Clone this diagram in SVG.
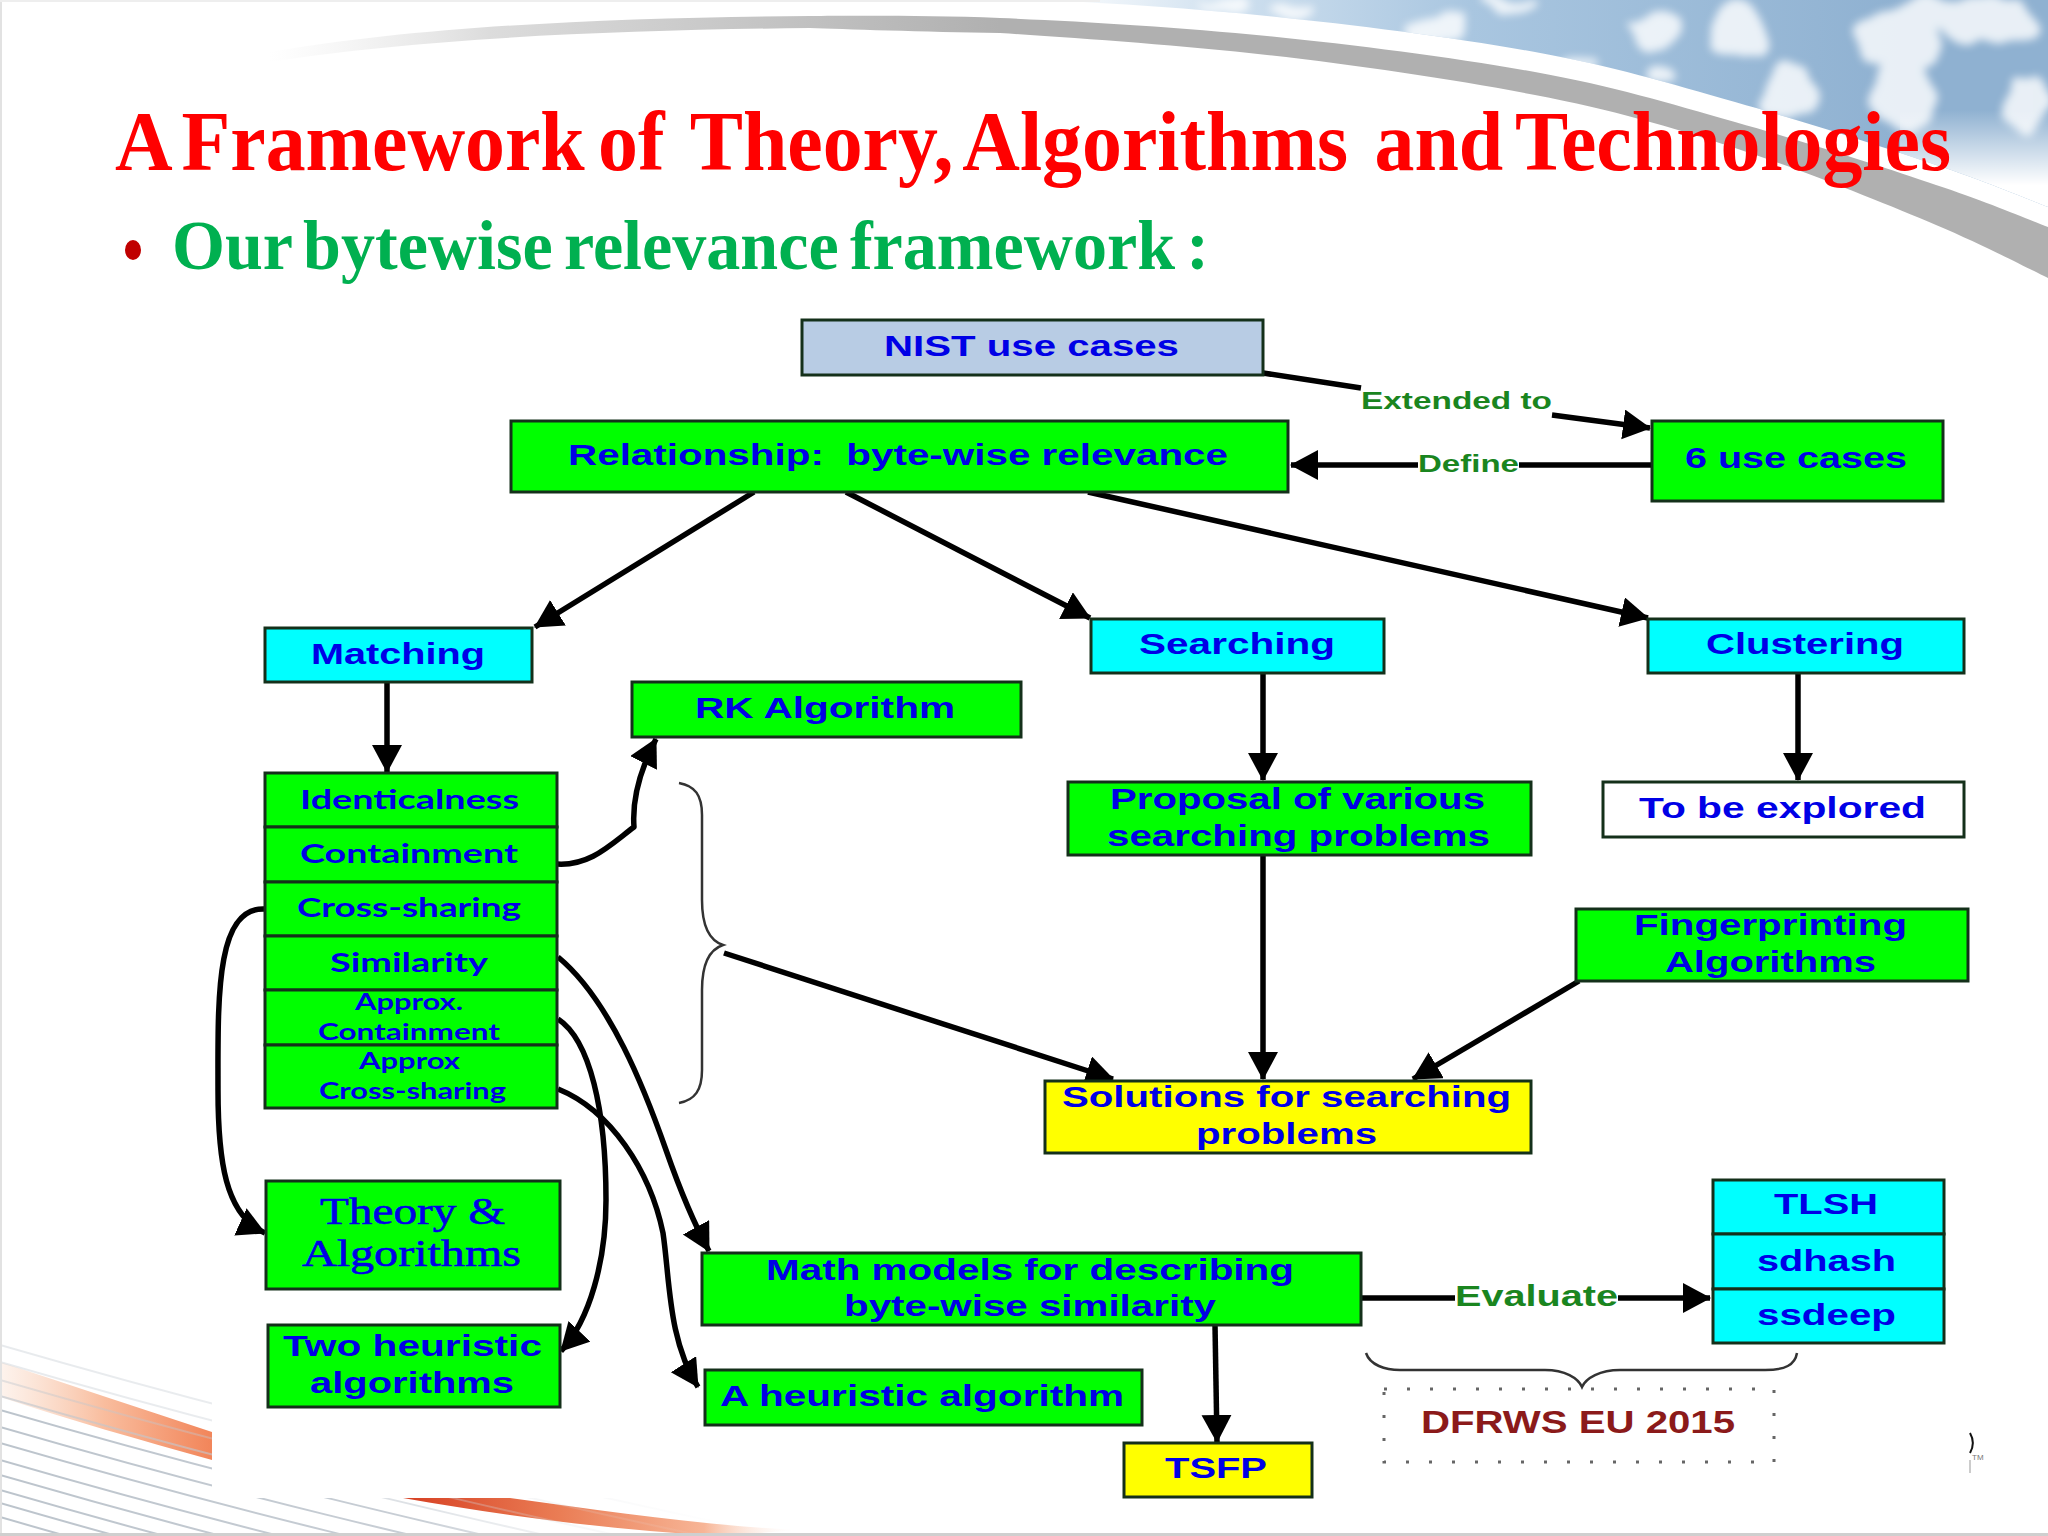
<svg xmlns="http://www.w3.org/2000/svg" width="2048" height="1536" viewBox="0 0 2048 1536">
<style>
.box{stroke:#14301a;stroke-width:3}
.g{fill:#00ff00}.c{fill:#00ffff}.y{fill:#ffff00}
text{font-family:"Liberation Sans",Arial,sans-serif}
.t{font-weight:700;font-size:29px;fill:#0000e6}
.l{font-family:Lato,"Liberation Sans",sans-serif;font-weight:700;fill:#0000e6}
.s{font-family:"Liberation Serif",serif;font-size:38px;fill:#0000e6;stroke:#0000e6;stroke-width:.6}
.lab{font-weight:700;fill:#1a851f}
.conn{fill:none;stroke:#000;stroke-width:5.5;stroke-linecap:butt;stroke-linejoin:round}
.end{marker-end:url(#arrow)}
.brace{fill:none;stroke:#333;stroke-width:2.5}
.gl{fill:none;stroke:url(#lineFade);stroke-width:2}
</style>
<defs>
<marker id="arrow" markerUnits="userSpaceOnUse" markerWidth="30" markerHeight="32" refX="27" refY="15" orient="auto">
<path d="M0,0 L28,15 L0,30 Z" fill="#000"/>
</marker>
<linearGradient id="sky" gradientUnits="userSpaceOnUse" x1="1040" y1="0" x2="1900" y2="0">
<stop offset="0" stop-color="#fff"/><stop offset=".22" stop-color="#cfe0ef"/><stop offset=".5" stop-color="#a9c6e0"/><stop offset="1" stop-color="#8fb1d1"/>
</linearGradient>
<linearGradient id="skyFade" gradientUnits="userSpaceOnUse" x1="2000" y1="110" x2="2000" y2="185">
<stop offset="0" stop-color="#fff" stop-opacity="0"/><stop offset="1" stop-color="#fff"/>
</linearGradient>
<linearGradient id="bandG" gradientUnits="userSpaceOnUse" x1="270" y1="0" x2="1000" y2="0">
<stop offset="0" stop-color="#e8e8e8" stop-opacity="0"/><stop offset=".3" stop-color="#dcdcdc"/><stop offset="1" stop-color="#b0b0b0"/>
</linearGradient>
<linearGradient id="orange" gradientUnits="userSpaceOnUse" x1="0" y1="0" x2="800" y2="0">
<stop offset="0" stop-color="#f8d0b8" stop-opacity=".25"/><stop offset=".13" stop-color="#f9bd9e"/><stop offset=".26" stop-color="#f2875c"/><stop offset=".5" stop-color="#d63f22"/><stop offset=".7" stop-color="#ea7d55"/><stop offset=".88" stop-color="#f7b596"/><stop offset="1" stop-color="#fff" stop-opacity="0"/>
</linearGradient>
<linearGradient id="lineFade" gradientUnits="userSpaceOnUse" x1="0" y1="0" x2="760" y2="0">
<stop offset="0" stop-color="#bcc4cc"/><stop offset=".55" stop-color="#c8ced5"/><stop offset="1" stop-color="#eef0f2" stop-opacity="0"/>
</linearGradient>
<clipPath id="skyClip"><path d="M1040,0 L1000,-2 C1076,1 1178,7 1267,16 C1356,25 1457,38 1535,52 C1613,66 1668,83 1735,102 C1802,121 1884,147 1936,165 C1988,182 2029,200 2048,207 L2048,0 Z"/></clipPath>
<filter id="cloud" x="-20%" y="-40%" width="140%" height="180%">
<feTurbulence type="fractalNoise" baseFrequency=".022" numOctaves="2" seed="7" result="n"/>
<feDisplacementMap in="SourceGraphic" in2="n" scale="42" xChannelSelector="R" yChannelSelector="G"/>
<feGaussianBlur stdDeviation="4.5"/>
</filter>
<path id="gline" d="M0,0 C200,58 400,110 800,195"/>
</defs>
<rect id="page" width="2048" height="1536" fill="#fff"/>
<g id="background">
<g clip-path="url(#skyClip)">
<rect x="1000" y="0" width="1048" height="210" fill="url(#sky)"/>
<g fill="#fff" opacity=".8" filter="url(#cloud)">
<ellipse cx="1227" cy="5" rx="30" ry="6"/><ellipse cx="1294" cy="13" rx="18" ry="10"/>
<ellipse cx="1434" cy="27" rx="32" ry="16"/><ellipse cx="1508" cy="5" rx="28" ry="9"/>
<ellipse cx="1575" cy="57" rx="25" ry="10"/><ellipse cx="1655" cy="30" rx="28" ry="18"/>
<ellipse cx="1662" cy="77" rx="14" ry="10"/><ellipse cx="1742" cy="30" rx="32" ry="30"/>
<ellipse cx="1789" cy="90" rx="30" ry="28"/><ellipse cx="1896" cy="40" rx="42" ry="34"/>
<ellipse cx="1902" cy="95" rx="26" ry="40"/><ellipse cx="1985" cy="20" rx="50" ry="24"/>
<ellipse cx="2030" cy="103" rx="20" ry="25"/><ellipse cx="1925" cy="15" rx="30" ry="14"/>
</g>
<rect x="1900" y="110" width="148" height="100" fill="url(#skyFade)"/>
</g>
<path fill="url(#bandG)" d="M270,52 C420,26 620,17 810,16 C842,16 924,15 1000,18 C1076,21 1178,27 1267,36 C1356,45 1457,58 1535,72 C1613,86 1668,103 1735,122 C1802,141 1884,167 1936,185 C1988,202 2029,220 2048,227 L2048,278 C2029,269 1988,247 1936,225 C1884,203 1802,170 1735,148 C1668,126 1613,110 1535,95 C1457,80 1356,65 1267,55 C1178,45 1076,38 1000,33 C924,32 842,29 810,28 C620,30 420,38 270,62 Z"/>
<path fill="url(#orange)" d="M0,1362 C70,1385 140,1408 212,1432 C310,1465 420,1490 510,1498 C610,1512 710,1526 800,1530 L720,1536 C610,1530 500,1515 403,1498 C330,1488 270,1478 212,1460 C140,1440 70,1420 0,1397 Z"/>
<g id="lines">
<use href="#gline" class="gl" transform="translate(0,1345)" opacity=".35"/>
<use href="#gline" class="gl" transform="translate(0,1362)" opacity=".35"/>
<use href="#gline" class="gl" transform="translate(0,1380)" opacity=".4"/>
<use href="#gline" class="gl" transform="translate(0,1396)" opacity=".6"/>
<use href="#gline" class="gl" transform="translate(0,1410)"/>
<use href="#gline" class="gl" transform="translate(0,1427)"/>
<use href="#gline" class="gl" transform="translate(0,1443)"/>
<use href="#gline" class="gl" transform="translate(0,1460)"/>
<use href="#gline" class="gl" transform="translate(0,1475)"/>
<use href="#gline" class="gl" transform="translate(0,1490)"/>
<use href="#gline" class="gl" transform="translate(0,1503)"/>
<use href="#gline" class="gl" transform="translate(0,1517)"/>
</g>
<rect x="212" y="1300" width="1836" height="198" fill="#fff"/>
<rect x="0" y="0" width="2" height="1536" fill="#e2e2e2"/>
<rect x="0" y="0" width="1100" height="2" fill="#eee"/>
<rect x="0" y="1533" width="2048" height="3" fill="#cfcfcf"/>
<path d="M1970,1433 C1974,1440 1974,1446 1970,1453" fill="none" stroke="#111" stroke-width="2"/>
<path d="M1970,1460 L1970,1473" fill="none" stroke="#bbb" stroke-width="1.5"/>
<text x="1972" y="1460" font-size="8" fill="#777">TM</text>
</g>

<g id="title">
<text x="115" y="170" xml:space="preserve" textLength="1836" lengthAdjust="spacingAndGlyphs" style="font-family:'Liberation Serif',serif;font-weight:700;font-size:84px;word-spacing:-7px;fill:#ff0000">A Framework of  Theory, Algorithms  and Technologies</text>
<ellipse cx="133" cy="250" rx="8" ry="10" fill="#c00000"/>
<text x="172" y="269" textLength="1037" lengthAdjust="spacingAndGlyphs" style="font-family:'Liberation Serif',serif;font-weight:700;font-size:70px;word-spacing:-6px;fill:#00b050">Our bytewise relevance framework :</text>
</g>

<g id="connectors">
<path class="conn" d="M1263,373 L1361,388"/>
<path class="conn end" d="M1552,415 L1650,428"/>
<path class="conn" d="M1655,465 L1519,465"/>
<path class="conn end" d="M1418,465 L1291,465"/>
<path class="conn end" d="M754,492 L535,627"/>
<path class="conn end" d="M846,492 L1090,618"/>
<path class="conn end" d="M1088,492 L1648,618"/>
<path class="conn end" d="M387,682 L387,772"/>
<path class="conn end" d="M1263,673 L1263,780"/>
<path class="conn end" d="M1798,673 L1798,780"/>
<path class="conn end" d="M1263,855 L1263,1079"/>
<path class="conn end" d="M1579,981 L1413,1079"/>
<path class="conn end" d="M724,953 L1113,1079"/>
<path class="conn end" d="M557,864 C590,866 610,845 634,827 C632,800 640,770 656,739"/>
<path class="conn end" d="M266,909 C215,905 218,1000 218,1090 C218,1160 225,1215 265,1233"/>
<path class="conn end" d="M558,957 C610,1000 645,1090 666,1150 C680,1190 692,1220 709,1251"/>
<path class="conn end" d="M558,1019 C590,1040 606,1110 606,1200 C606,1260 590,1320 561,1351"/>
<path class="conn end" d="M558,1089 C610,1110 650,1170 663,1233 C670,1280 668,1340 698,1387"/>
<path class="conn" d="M1361,1298 L1455,1298"/>
<path class="conn end" d="M1618,1298 L1710,1298"/>
<path class="conn end" d="M1215,1325 L1217,1442"/>
<path class="brace" d="M679,783 C695,786 702,795 702,815 L702,900 C702,925 708,940 723,945 C708,950 702,965 702,990 L702,1070 C702,1090 695,1100 679,1103"/>
<path class="brace" d="M1366,1353 C1370,1365 1385,1370 1400,1370 L1545,1370 C1565,1370 1578,1378 1582,1387 C1586,1378 1600,1370 1620,1370 L1765,1370 C1785,1370 1795,1365 1797,1353"/>
<text class="lab" x="1361" y="409" font-size="24" textLength="191" lengthAdjust="spacingAndGlyphs">Extended to</text>
<text class="lab" x="1418" y="472" font-size="24" textLength="101" lengthAdjust="spacingAndGlyphs">Define</text>
<text class="lab" x="1455" y="1306" font-size="29" textLength="163" lengthAdjust="spacingAndGlyphs">Evaluate</text>
</g>

<g id="nist"><rect class="box" x="802" y="320" width="461" height="55" fill="#b8cce4"/><text class="t" x="884" y="356" textLength="295" lengthAdjust="spacingAndGlyphs">NIST use cases</text></g>
<g id="relationship"><rect class="box g" x="511" y="421" width="777" height="71"/><text class="t" x="568" y="465" textLength="660" lengthAdjust="spacingAndGlyphs" xml:space="preserve">Relationship:  byte-wise relevance</text></g>
<g id="use-cases"><rect class="box g" x="1652" y="421" width="291" height="80"/><text class="t" x="1685" y="468" textLength="222" lengthAdjust="spacingAndGlyphs">6 use cases</text></g>
<g id="matching"><rect class="box c" x="265" y="628" width="267" height="54"/><text class="t" x="311" y="664" textLength="174" lengthAdjust="spacingAndGlyphs">Matching</text></g>
<g id="searching"><rect class="box c" x="1091" y="619" width="293" height="54"/><text class="t" x="1139" y="654" textLength="196" lengthAdjust="spacingAndGlyphs">Searching</text></g>
<g id="clustering"><rect class="box c" x="1648" y="619" width="316" height="54"/><text class="t" x="1706" y="654" textLength="198" lengthAdjust="spacingAndGlyphs">Clustering</text></g>
<g id="rk"><rect class="box g" x="632" y="682" width="389" height="55"/><text class="t" x="695" y="718" textLength="260" lengthAdjust="spacingAndGlyphs">RK Algorithm</text></g>

<g id="identicalness"><rect class="box g" x="265" y="773" width="292" height="54"/><text class="l" font-size="27" x="300" y="809" textLength="219" lengthAdjust="spacingAndGlyphs">Identicalness</text></g>
<g id="containment"><rect class="box g" x="265" y="827" width="292" height="55"/><text class="l" font-size="27" x="300" y="863" textLength="218" lengthAdjust="spacingAndGlyphs">Containment</text></g>
<g id="cross-sharing"><rect class="box g" x="265" y="882" width="292" height="54"/><text class="l" font-size="27" x="297" y="917" textLength="224" lengthAdjust="spacingAndGlyphs">Cross-sharing</text></g>
<g id="similarity"><rect class="box g" x="265" y="936" width="292" height="54"/><text class="l" font-size="27" x="330" y="972" textLength="158" lengthAdjust="spacingAndGlyphs">Similarity</text></g>
<g id="approx-containment"><rect class="box g" x="265" y="990" width="292" height="55"/><text class="l" font-size="23" x="355" y="1010" textLength="108" lengthAdjust="spacingAndGlyphs">Approx.</text><text class="l" font-size="23" x="318" y="1040" textLength="182" lengthAdjust="spacingAndGlyphs">Containment</text></g>
<g id="approx-cross-sharing"><rect class="box g" x="265" y="1045" width="292" height="63"/><text class="l" font-size="23" x="359" y="1069" textLength="101" lengthAdjust="spacingAndGlyphs">Approx</text><text class="l" font-size="23" x="319" y="1099" textLength="187" lengthAdjust="spacingAndGlyphs">Cross-sharing</text></g>

<g id="proposal"><rect class="box g" x="1068" y="782" width="463" height="73"/><text class="t" x="1110" y="809" textLength="375" lengthAdjust="spacingAndGlyphs">Proposal of various</text><text class="t" x="1107" y="846" textLength="383" lengthAdjust="spacingAndGlyphs">searching problems</text></g>
<g id="explored"><rect class="box" x="1603" y="782" width="361" height="55" fill="#fff"/><text class="t" x="1639" y="818" textLength="287" lengthAdjust="spacingAndGlyphs">To be explored</text></g>
<g id="fingerprinting"><rect class="box g" x="1576" y="909" width="392" height="72"/><text class="t" x="1634" y="935" textLength="273" lengthAdjust="spacingAndGlyphs">Fingerprinting</text><text class="t" x="1665" y="972" textLength="211" lengthAdjust="spacingAndGlyphs">Algorithms</text></g>
<g id="solutions"><rect class="box y" x="1045" y="1081" width="486" height="72"/><text class="t" x="1062" y="1107" textLength="449" lengthAdjust="spacingAndGlyphs">Solutions for searching</text><text class="t" x="1196" y="1144" textLength="181" lengthAdjust="spacingAndGlyphs">problems</text></g>
<g id="theory"><rect class="box g" x="266" y="1181" width="294" height="108"/><text class="s" x="320" y="1224" textLength="185" lengthAdjust="spacingAndGlyphs">Theory &amp;</text><text class="s" x="302" y="1266" textLength="219" lengthAdjust="spacingAndGlyphs">Algorithms</text></g>
<g id="two-heuristic"><rect class="box g" x="268" y="1325" width="292" height="82"/><text class="t" x="283" y="1356" textLength="259" lengthAdjust="spacingAndGlyphs">Two heuristic</text><text class="t" x="310" y="1393" textLength="204" lengthAdjust="spacingAndGlyphs">algorithms</text></g>
<g id="math"><rect class="box g" x="702" y="1253" width="659" height="72"/><text class="t" x="766" y="1280" textLength="528" lengthAdjust="spacingAndGlyphs">Math models for describing</text><text class="t" x="844" y="1316" textLength="372" lengthAdjust="spacingAndGlyphs">byte-wise similarity</text></g>
<g id="a-heuristic"><rect class="box g" x="705" y="1370" width="437" height="55"/><text class="t" x="720" y="1406" textLength="404" lengthAdjust="spacingAndGlyphs">A heuristic algorithm</text></g>
<g id="tsfp"><rect class="box y" x="1124" y="1443" width="188" height="54"/><text class="t" x="1165" y="1478" textLength="102" lengthAdjust="spacingAndGlyphs">TSFP</text></g>
<g id="tlsh"><rect class="box c" x="1713" y="1180" width="231" height="54"/><text class="t" x="1774" y="1214" textLength="104" lengthAdjust="spacingAndGlyphs">TLSH</text></g>
<g id="sdhash"><rect class="box c" x="1713" y="1234" width="231" height="55"/><text class="t" x="1757" y="1271" textLength="139" lengthAdjust="spacingAndGlyphs">sdhash</text></g>
<g id="ssdeep"><rect class="box c" x="1713" y="1289" width="231" height="54"/><text class="t" x="1757" y="1325" textLength="139" lengthAdjust="spacingAndGlyphs">ssdeep</text></g>
<g id="dfrws"><rect x="1384" y="1389" width="390" height="73" fill="none" stroke="#666" stroke-width="3" stroke-dasharray="3 20"/><text x="1421" y="1433" font-size="31" font-weight="700" fill="#8b1a1a" textLength="314" lengthAdjust="spacingAndGlyphs">DFRWS EU 2015</text></g>
</svg>
